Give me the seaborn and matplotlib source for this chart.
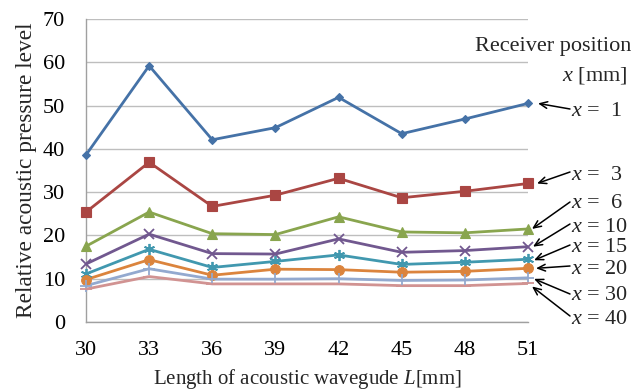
import matplotlib
matplotlib.use("Agg")
import matplotlib.pyplot as plt
import matplotlib.transforms as mtransforms
import seaborn as sns
import pandas as pd

# Waveguide lengths L [mm]
lengths = [30, 33, 36, 39, 42, 45, 48, 51]

# Receiver positions x [mm]
positions = [1, 3, 6, 10, 15, 20, 30, 40]

# Relative acoustic pressure level for each receiver position
level_x1 = [38.6, 59.2, 42.1, 44.9, 51.9, 43.5, 46.9, 50.5]
level_x3 = [25.4, 36.9, 26.7, 29.3, 33.2, 28.7, 30.2, 32.0]
level_x6 = [17.5, 25.4, 20.4, 20.2, 24.3, 20.8, 20.6, 21.5]
level_x10 = [13.4, 20.3, 15.8, 15.7, 19.2, 16.1, 16.5, 17.4]
level_x15 = [11.1, 16.8, 12.6, 14.0, 15.5, 13.3, 13.8, 14.5]
level_x20 = [9.8, 14.4, 10.8, 12.2, 12.1, 11.5, 11.7, 12.4]
level_x30 = [8.4, 12.3, 9.9, 9.9, 10.0, 9.6, 9.7, 10.2]
level_x40 = [7.6, 10.5, 8.8, 8.8, 8.8, 8.4, 8.4, 8.9]

levels = [level_x1, level_x3, level_x6, level_x10,
          level_x15, level_x20, level_x30, level_x40]

colors = ["#4572A7", "#AA4643", "#89A54E", "#71588F",
          "#4198AF", "#DB843D", "#93A9CF", "#D19392"]
marker_shapes = ["D", "s", "^", "x", (6, 2, 0), "o", "+", "_"]
marker_sizes = [4.5, 6.5, 7, 7, 8, 7, 8, 8]

rows = []
for pos, vals in zip(positions, levels):
    for L, v in zip(lengths, vals):
        rows.append({"L": L, "level": v, "pos": f"x = {pos}"})
df = pd.DataFrame(rows)
hue_order = [f"x = {p}" for p in positions]

sns.set_theme(style="white")
plt.rcParams["font.family"] = ["Liberation Serif", "DejaVu Serif"]
plt.rcParams["mathtext.fontset"] = "custom"
plt.rcParams["mathtext.rm"] = "Liberation Serif"
plt.rcParams["mathtext.it"] = "Liberation Serif:italic"

fig = plt.figure(figsize=(6.32, 3.90), dpi=100)
ax = fig.add_axes([86 / 632, 1 - 322 / 390, (528 - 86) / 632, (322 - 19) / 390])

sns.lineplot(data=df, x="L", y="level", hue="pos", hue_order=hue_order,
             palette=colors, legend=False, ax=ax, linewidth=2, zorder=3)

# markers per series, drawn on top of each line
for vals, c, m, ms in zip(levels, colors, marker_shapes, marker_sizes):
    ax.plot(lengths, vals, linestyle="none", marker=m, markersize=ms,
            color=c, markeredgecolor=c,
            markeredgewidth=1.3 if m in ("x", "+", "_", (6, 2, 0)) else 0.8,
            zorder=4, clip_on=False)

ax.set_xlim(lengths[0], lengths[-1])
ax.set_ylim(0, 70)
ax.set_xticks(lengths)
ax.set_yticks(range(0, 71, 10))
ax.tick_params(axis="both", labelsize=16, colors="#888888", length=5,
               direction="out", labelcolor="black", width=1)
ax.tick_params(axis="x", pad=9)
ax.tick_params(axis="y", pad=10)
ax.grid(axis="y", color="#BEBEBE", linewidth=1)
ax.grid(axis="x", visible=False)
ax.set_axisbelow(True)
for side in ("top", "right"):
    ax.spines[side].set_visible(False)
for side in ("left", "bottom"):
    ax.spines[side].set_color("#A0A0A0")
    ax.spines[side].set_linewidth(1)

ax.set_xlabel(r"Length of acoustic wavegude $\mathit{L}$[mm]", fontsize=15, labelpad=5)
ax.set_ylabel("Relative acoustic pressure level", fontsize=16.8, labelpad=4)

# Legend heading
fig.text(631 / 632, 1 - 47 / 390, "Receiver position", ha="right", va="center", fontsize=16)
fig.text(627 / 632, 1 - 75 / 390, r"$\mathit{x}$ [mm]", ha="right", va="center", fontsize=16)

# Arrow labels: text position (px from top) and arrow tail / head offsets in px
label_y = [112, 176, 203, 228, 247, 270, 296, 319]
tail_y = [109, 172, 202, 224, 245, 266, 294, 316]
head_off = [(10, 0), (9, 0), (4, 0), (5, 0), (6, 1), (8, 0), (6, 1), (4, 3)]
label_text = [r"$\mathit{x}$ =  1", r"$\mathit{x}$ =  3", r"$\mathit{x}$ =  6",
              r"$\mathit{x}$ = 10", r"$\mathit{x}$ = 15", r"$\mathit{x}$ = 20",
              r"$\mathit{x}$ = 30", r"$\mathit{x}$ = 40"]

for vals, ly, ty, (dx, dy), txt in zip(levels, label_y, tail_y, head_off, label_text):
    fig.text(571 / 632, 1 - ly / 390, txt, ha="left", va="center", fontsize=16)
    head_tr = ax.transData + mtransforms.ScaledTranslation(dx / 100, -dy / 100,
                                                             fig.dpi_scale_trans)
    ax.annotate("", xy=(lengths[-1], vals[-1]), xycoords=head_tr,
                xytext=(570, 390 - ty), textcoords="figure pixels",
                arrowprops=dict(arrowstyle="->,head_length=0.45,head_width=0.2",
                                color="black", lw=1.1, shrinkA=0, shrinkB=0),
                annotation_clip=False)

fig.savefig("out.png", dpi=100)
